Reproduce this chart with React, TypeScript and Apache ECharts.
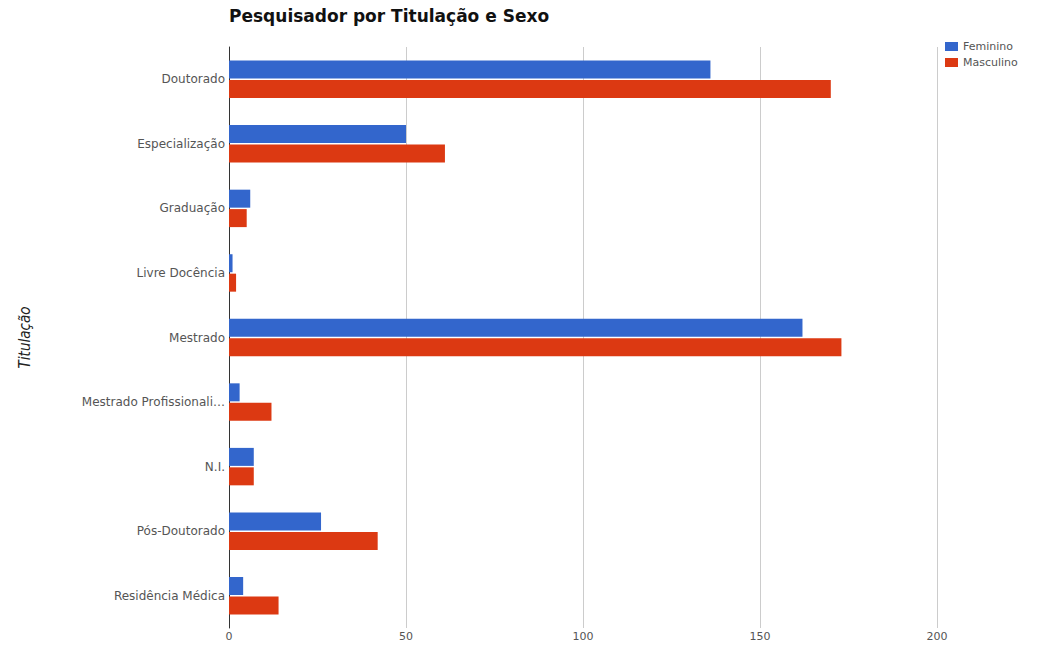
import React, { useEffect, useRef } from "react";
import * as echarts from "echarts";

const categories = [
  "Doutorado",
  "Especialização",
  "Graduação",
  "Livre Docência",
  "Mestrado",
  "Mestrado Profissionali…",
  "N.I.",
  "Pós-Doutorado",
  "Residência Médica",
];
const feminino = [136, 50, 6, 1, 162, 3, 7, 26, 4];
const masculino = [170, 61, 5, 2, 173, 12, 7, 42, 14];
const xTicks = [0, 50, 100, 150, 200];

const FONT = "'DejaVu Sans', Verdana, sans-serif";

export default function App() {
  const ref = useRef<HTMLDivElement>(null);
  useEffect(() => {
    if (!ref.current) return;
    const chart = echarts.init(ref.current, null, { renderer: "svg" });
    chart.setOption({
      animation: false,
      backgroundColor: "#ffffff",
      title: {
        text: "Pesquisador por Titulação e Sexo",
        left: 229,
        top: 7,
        padding: 0,
        textStyle: { fontFamily: FONT, fontSize: 17, fontWeight: "bold", color: "#111" },
      },
      legend: {
        orient: "vertical",
        left: 940,
        top: 36,
        itemWidth: 13,
        itemHeight: 9,
        itemGap: 5,
        icon: "rect",
        textStyle: { fontFamily: FONT, fontSize: 11, color: "#555" },
        data: ["Feminino", "Masculino"],
      },
      grid: { left: 229, right: 119, top: 47, bottom: 18, containLabel: false },
      xAxis: {
        type: "value",
        min: xTicks[0],
        max: xTicks[xTicks.length - 1],
        interval: 50,
        axisLine: { show: false },
        axisTick: { show: false },
        splitLine: { show: true, lineStyle: { color: "#cccccc", width: 1 } },
        axisLabel: { fontFamily: FONT, fontSize: 11, color: "#555", margin: 3 },
      },
      yAxis: {
        type: "category",
        data: categories,
        inverse: true,
        name: "Titulação",
        nameLocation: "middle",
        nameGap: 197,
        nameTextStyle: {
          fontFamily: "'DejaVu Sans Condensed', 'Liberation Sans Narrow', sans-serif",
          fontStyle: "italic",
          fontSize: 15,
          color: "#222",
        },
        axisLine: { show: true, lineStyle: { color: "#333", width: 1 } },
        axisTick: { show: false },
        axisLabel: { fontFamily: FONT, fontSize: 12, color: "#555", margin: 4 },
        splitLine: { show: false },
      },
      series: [
        {
          name: "Feminino",
          type: "bar",
          data: feminino,
          barWidth: 18,
          barGap: "8%",
          itemStyle: { color: "#3366cc" },
        },
        {
          name: "Masculino",
          type: "bar",
          data: masculino,
          barWidth: 18,
          barGap: "8%",
          itemStyle: { color: "#dc3912" },
        },
      ],
    });
    return () => chart.dispose();
  }, []);
  return (
    <div
      ref={ref}
      style={{ position: "fixed", left: 0, top: 0, width: 1056, height: 646 }}
    />
  );
}
